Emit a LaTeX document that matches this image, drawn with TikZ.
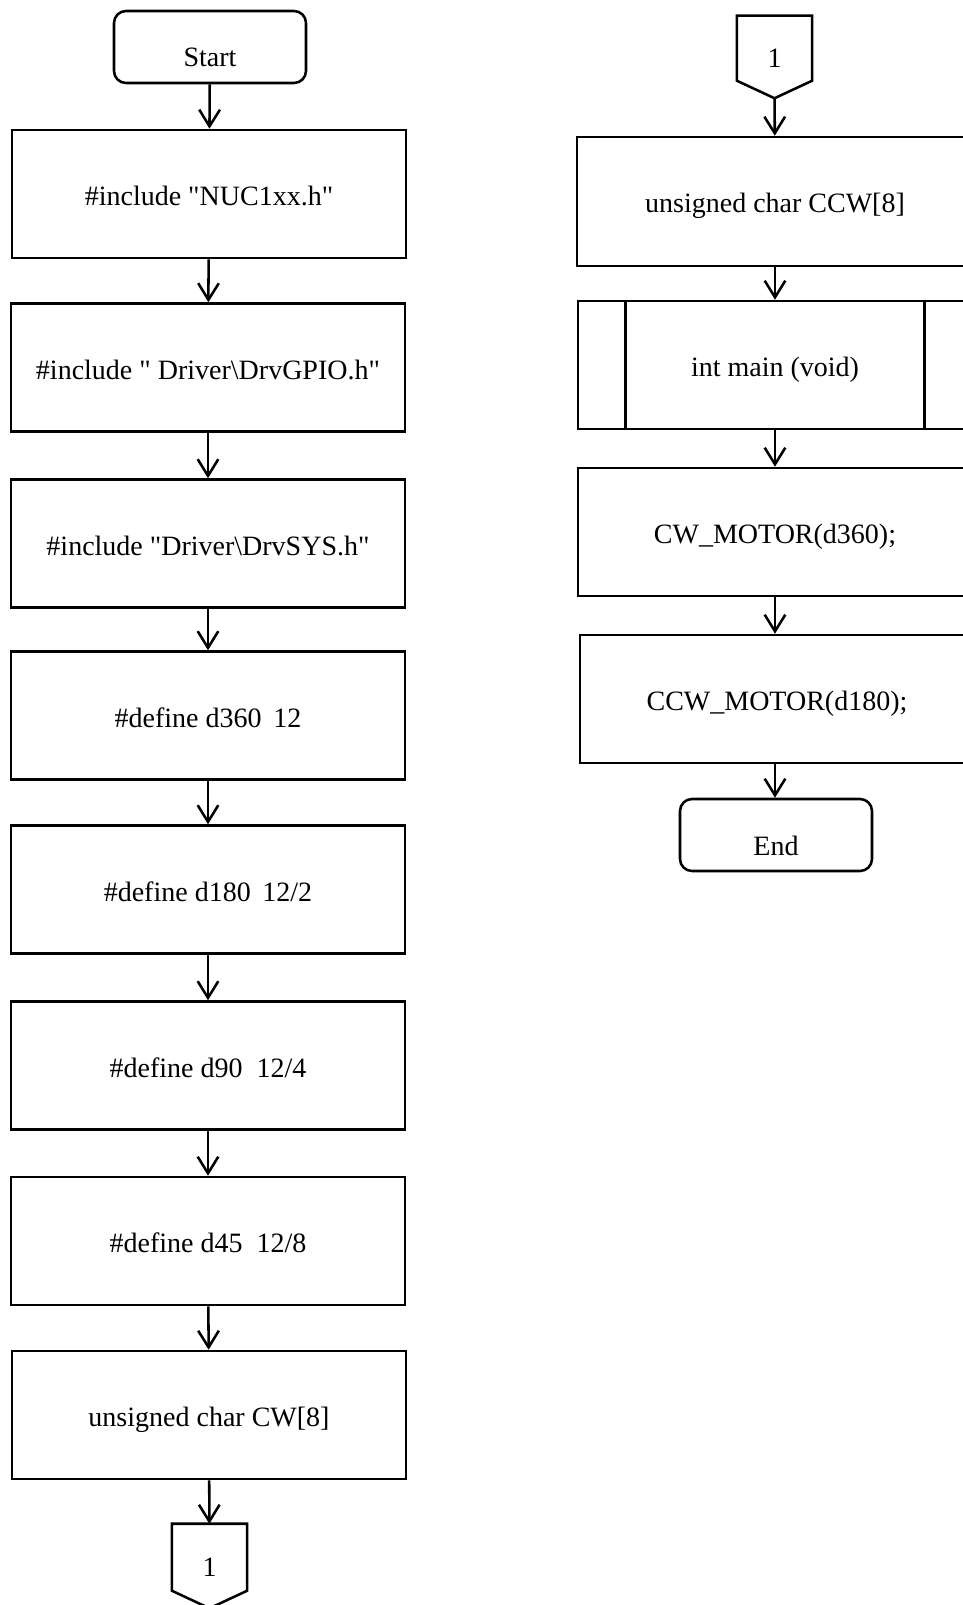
\documentclass[tikz,border=0pt]{standalone}
\usepackage{fontspec}
\setmainfont{Liberation Serif}
\usetikzlibrary{arrows.meta,calc}
\newcommand{\dq}{\textquotedbl}
\begin{document}
\begin{tikzpicture}[x=0.75pt,y=-0.75pt,
  every node/.style={font=\fontsize{21pt}{25pt}\selectfont, inner sep=0pt},
  proc/.style={draw, line width=1.9pt, minimum width=295.5pt, minimum height=96pt,
    text height=17.25pt, text depth=0pt},
  term/.style={draw, line width=1.9pt, rounded corners=9pt, minimum width=144pt, minimum height=54pt,
    text height=30pt, text depth=0pt},
  conn/.style={minimum width=56pt, minimum height=63pt, text height=15.5pt, text depth=0pt},
  flow/.style={line width=1.9pt, -{Straight Barb[length=12.5pt,width=15.5pt,line width=1.9pt]}},
  edge/.style={line width=1.9pt, line join=miter}]
\useasboundingbox (0,0) rectangle (963,1605);

% left column
\node[term] (start) at (210,47) {Start};
\node[proc] (inc1) at (209,194) {\#include \dq NUC1xx.h\dq};
\node[proc] (inc2) at (208,367.5) {\#include \dq\ Driver\textbackslash DrvGPIO.h\dq};
\node[proc] (inc3) at (208,543.5) {\#include \dq Driver\textbackslash DrvSYS.h\dq};
\node[proc] (def1) at (208,715.5) {\#define d360\, 12};
\node[proc] (def2) at (208,889.5) {\#define d180\, 12/2};
\node[proc] (def3) at (208,1065.5) {\#define d90\ \ 12/4};
\node[proc] (def4) at (208,1241) {\#define d45\ \ 12/8};
\node[proc] (arr1) at (209,1415) {unsigned char CW[8]};
\node[conn] (out1) at (209.5,1566) {1};
\draw[edge] (out1.north west) -- (out1.north east) -- ($(out1.north east)+(0,67)$)
  -- (out1.south) -- ($(out1.north west)+(0,67)$) -- cycle;

\draw[flow] (start) -- (inc1);
\draw[flow] (inc1) -- (inc2);
\draw[flow] (inc2) -- (inc3);
\draw[flow] (inc3) -- (def1);
\draw[flow] (def1) -- (def2);
\draw[flow] (def2) -- (def3);
\draw[flow] (def3) -- (def4);
\draw[flow] (def4) -- (arr1);
\draw[flow] (arr1) -- (out1);

% right column
\node[conn, minimum height=61.5pt] (in1) at (774.5,57) {1};
\draw[edge] (in1.north west) -- (in1.north east) -- ($(in1.north east)+(0,65)$)
  -- (in1.south) -- ($(in1.north west)+(0,65)$) -- cycle;
\node[proc, minimum width=297pt, minimum height=96.75pt] (arr2) at (775,201.5) {unsigned char CCW[8]};
\node[proc] (main) at (775,365) {int main (void)};
\draw[edge] ($(main.north west)+(49,0)$) -- ($(main.south west)+(49,0)$);
\draw[edge] ($(main.north east)+(-49,0)$) -- ($(main.south east)+(-49,0)$);
\node[proc] (cw) at (775,532) {CW\_MOTOR(d360);};
\node[proc] (ccw) at (777,699) {CCW\_MOTOR(d180);};
\node[term] (end) at (776,835) {End};

\draw[flow] (in1) -- (arr2);
\draw[flow] (arr2) -- (main);
\draw[flow] (main) -- (cw);
\draw[flow] (cw) -- (ccw.north -| cw.south);
\draw[flow] (ccw.south -| cw.south) -- (end.north -| cw.south);
\end{tikzpicture}
\end{document}
